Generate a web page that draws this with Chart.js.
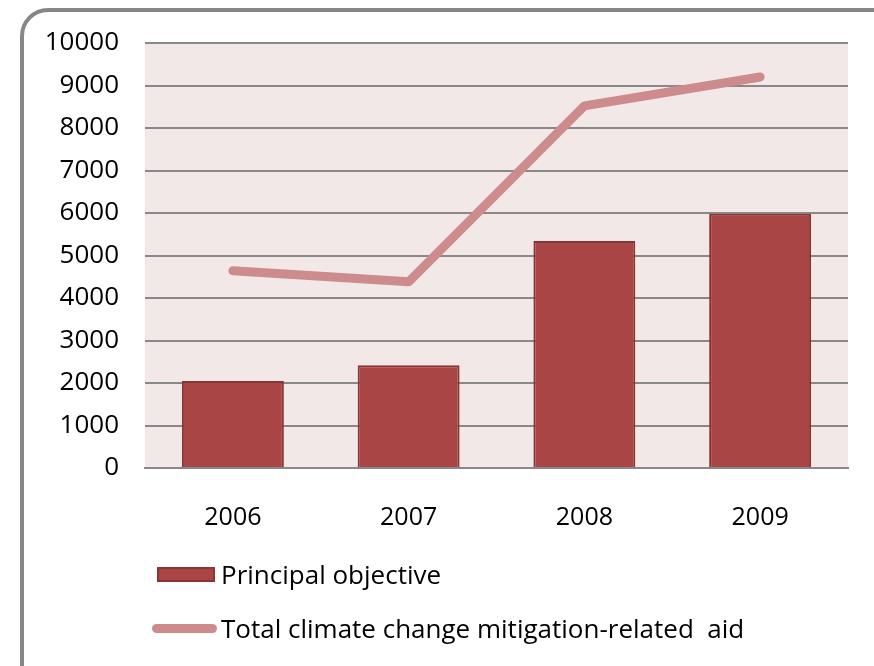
<!DOCTYPE html>
<html lang="en">
<head>
    <meta charset="UTF-8">
    <title>Climate change mitigation-related aid</title>
    <script src="https://cdn.jsdelivr.net/npm/chart.js"></script>
    <style>
        body {
            margin: 0;
            padding: 0;
            background: #ffffff;
            font-family: "Open Sans", sans-serif;
        }
        .wrap {
            position: relative;
            width: 874px;
            height: 666px;
            overflow: hidden;
        }
        .frame {
            position: absolute;
            left: 20px;
            top: 8px;
            width: 900px;
            height: 700px;
            border: 4px solid #878787;
            border-radius: 28px;
            box-sizing: border-box;
        }
        canvas {
            position: absolute;
            left: 0;
            top: 0;
        }
        .legend {
            position: absolute;
            left: 152px;
            top: 556px;
            font-size: 26px;
            color: #000;
        }
        .legend-row {
            display: flex;
            align-items: center;
            height: 36px;
            margin-bottom: 18px;
        }
        .swatch-bar {
            width: 58px;
            height: 15px;
            margin-left: 5px;
            margin-right: 6px;
            box-sizing: border-box;
        }
        .swatch-line {
            width: 65px;
            height: 9px;
            border-radius: 5px;
            margin-right: 4px;
        }
    </style>
</head>
<body>
<div class="wrap">
    <canvas id="aidChart" width="874" height="666"></canvas>
    <div class="frame"></div>
    <div class="legend" id="legend"></div>
</div>

<script>
    const years = ['2006', '2007', '2008', '2009'];
    const principalObjective = [2050, 2420, 5340, 5980];
    const totalMitigationAid = [4640, 4380, 8520, 9200];
    const yTicks = [0, 1000, 2000, 3000, 4000, 5000, 6000, 7000, 8000, 9000, 10000];

    const barColor = '#a94545';
    const barEdge = '#8a3434';
    const lineColor = '#cd8b8b';

    // pink plot background
    const plotBg = {
        id: 'plotBg',
        beforeDraw(chart) {
            const a = chart.chartArea;
            const ctx = chart.ctx;
            ctx.save();
            ctx.fillStyle = '#f2e8e8';
            ctx.fillRect(a.left, a.top, a.right - a.left, a.bottom - a.top);
            ctx.restore();
        }
    };

    const ctx = document.getElementById('aidChart').getContext('2d');
    new Chart(ctx, {
        type: 'bar',
        data: {
            labels: years,
            datasets: [
                {
                    type: 'line',
                    label: 'Total climate change mitigation-related  aid',
                    data: totalMitigationAid,
                    borderColor: lineColor,
                    borderWidth: 9,
                    borderCapStyle: 'round',
                    borderJoinStyle: 'round',
                    pointRadius: 0,
                    tension: 0,
                    order: 1
                },
                {
                    label: 'Principal objective',
                    data: principalObjective,
                    backgroundColor: barColor,
                    borderColor: barEdge,
                    borderWidth: 2,
                    categoryPercentage: 1,
                    barPercentage: 0.58,
                    order: 2
                }
            ]
        },
        options: {
            responsive: false,
            animation: false,
            layout: {
                padding: { left: 0, right: 26, top: 43, bottom: 138 }
            },
            plugins: {
                legend: { display: false },
                tooltip: { enabled: false }
            },
            scales: {
                x: {
                    grid: { display: false },
                    border: { color: '#888888', width: 2 },
                    ticks: {
                        color: '#000',
                        padding: 27,
                        font: { family: 'Open Sans', size: 25 }
                    },
                    afterFit(s) { s.height = 60; }
                },
                y: {
                    min: 0,
                    max: 10000,
                    afterBuildTicks(s) { s.ticks = yTicks.map(v => ({ value: v })); },
                    grid: { color: '#888888', lineWidth: 2, drawTicks: false },
                    border: { display: false },
                    ticks: {
                        color: '#000',
                        padding: 26,
                        font: { family: 'Open Sans', size: 26 },
                        callback: v => String(v)
                    },
                    afterFit(s) { s.width = 145; }
                }
            }
        },
        plugins: [plotBg]
    });

    // legend built from the same labels / colours
    const legend = document.getElementById('legend');
    legend.innerHTML =
        '<div class="legend-row"><div class="swatch-bar" style="background:' + barColor +
        ';border:2px solid ' + barEdge + '"></div><span>Principal objective</span></div>' +
        '<div class="legend-row"><div class="swatch-line" style="background:' + lineColor +
        '"></div><span>Total climate change mitigation-related&nbsp; aid</span></div>';
</script>
</body>
</html>
